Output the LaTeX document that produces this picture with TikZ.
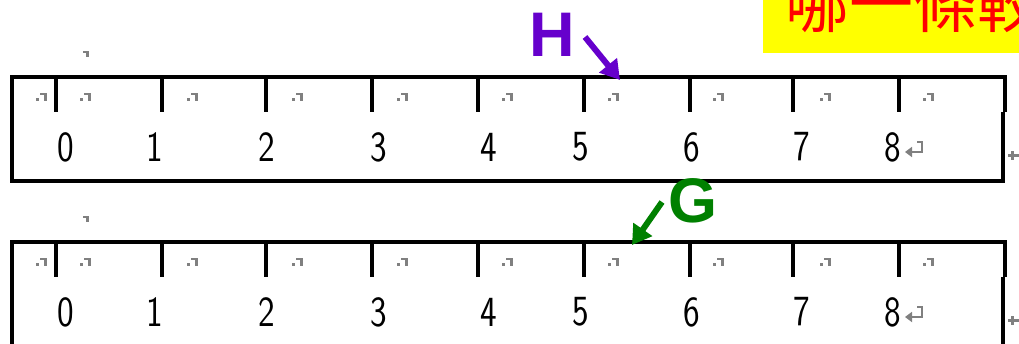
\documentclass[tikz,border=0pt]{standalone}
\usepackage{fontspec}
\newfontfamily\cjkfont{Noto Sans CJK TC}
\newfontfamily\arialfont{Liberation Sans}
\usetikzlibrary{arrows.meta}
\definecolor{hpurple}{RGB}{102,0,204}
\definecolor{ggreen}{RGB}{0,128,0}
\definecolor{markgray}{RGB}{128,128,128}
\definecolor{boxyellow}{RGB}{255,255,0}
\definecolor{txtred}{RGB}{255,0,0}
\tikzset{
  tbl/.style={line width=3.1pt},
  digit/.style={font=\sffamily\fontsize{43}{43}\selectfont, xscale=0.82, inner sep=0pt},
  bigletter/.style={font=\arialfont\bfseries\fontsize{63}{63}\selectfont, inner sep=0pt},
  pointer/.style={line width=6pt, -{Triangle[length=19pt,width=22pt]}},
  cellmark/.pic={\fill[markgray] (0,5) rectangle (3,8); \fill[markgray] (4,0) rectangle (11,2); \fill[markgray] (8,0) rectangle (11,8);},
  parmark/.pic={\fill[markgray] (0,0) rectangle (6,2); \fill[markgray] (3,0) rectangle (6,6);},
  endmark/.pic={\fill[markgray] (0,3) rectangle (12,6); \fill[markgray] (3,0) rectangle (6,9);},
  retmark/.style={draw=markgray, line width=2.6pt, -{Triangle[length=7pt,width=10pt]}}
}
\begin{document}
\begin{tikzpicture}[x=1pt,y=-1pt]
\clip (0,0) rectangle (1019,343);
\fill[white] (0,0) rectangle (1019,343);

% title box
\begin{scope}
  \clip (763,0) rectangle (1019,53);
  \fill[boxyellow] (763,0) rectangle (1019,53);
  \node[anchor=base west, inner sep=0pt, text=txtred, font=\cjkfont\fontsize{64}{64}\selectfont] (title) at (785,27) {哪一條較};
\end{scope}

% two tables
\foreach \oy/\nm in {0/a,165/b}{
  \pic at (83,{51+\oy}) {parmark};
  \draw[tbl] (1005,{112+\oy}) -- (1005,{77+\oy}) -- (12,{77+\oy}) -- (12,{181+\oy}) -- (1003,{181+\oy}) -- (1003,{112+\oy});
  \foreach \tx in {56,162,266,372,478,584,690,793,899}
    \draw[tbl] (\tx,{77+\oy}) -- (\tx,{112+\oy});
  \foreach \mx in {36,80,187,292,397,502,608,713,820,923}
    \pic at (\mx,{93+\oy}) {cellmark};
  \foreach \dx/\dv in {66/0,155/1,267/2,379/3,489/4,581/5,692/6,802/7,893/8}
    \node[digit] (d\nm\dv) at (\dx,{147+\oy}) {\dv};
  \coordinate (r\nm1) at (917,{142+\oy});
  \coordinate (r\nm2) at (922,{142+\oy});
  \coordinate (r\nm3) at (922,{152+\oy});
  \coordinate (r\nm4) at (905,{152+\oy});
  \draw[retmark] (r\nm1) -- (r\nm2) -- (r\nm3) -- (r\nm4);
  \pic at (1008,{151+\oy}) {endmark};
}

% H label and arrow
\node[bigletter, text=hpurple] (H) at (552,35) {H};
\coordinate (Hs) at (585,37);
\coordinate (Ht) at (620,80);
\draw[pointer, hpurple] (Hs) -- (Ht);

% G label and arrow
\node[bigletter, text=ggreen] (G) at (693,201) {G};
\coordinate (Gs) at (662,202);
\coordinate (Gt) at (632,245);
\draw[pointer, ggreen] (Gs) -- (Gt);
\end{tikzpicture}
\end{document}
